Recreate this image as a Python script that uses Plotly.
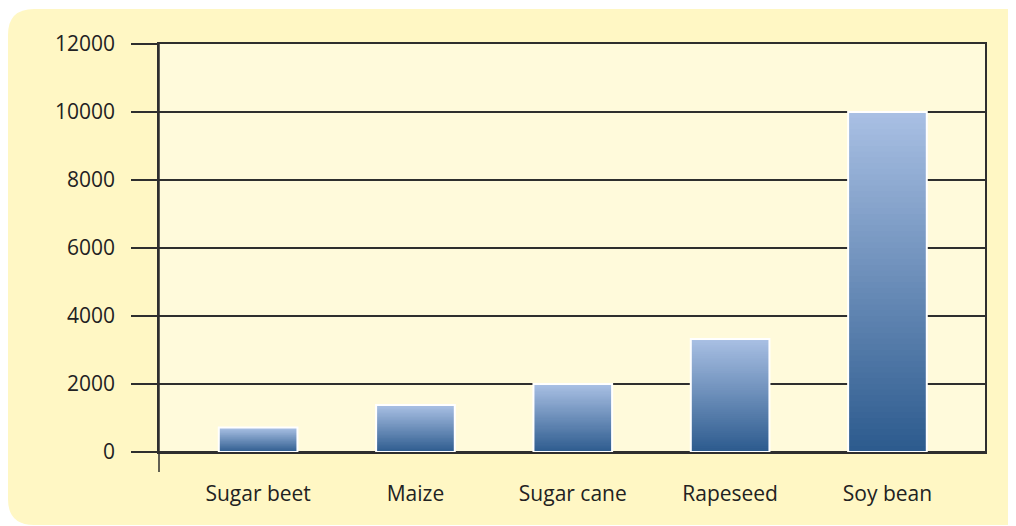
import plotly.graph_objects as go

categories = ["Sugar beet", "Maize", "Sugar cane", "Rapeseed", "Soy bean"]
values = [720, 1380, 2000, 3320, 10000]
y_ticks = [0, 2000, 4000, 6000, 8000, 10000, 12000]

# page body has an 8px margin, so the figure is drawn at offset (8, 8)
OFF = 8
W, H = 1016, 526 - OFF
L, T = 159 - OFF, 44 - OFF
R, B = W - (985 - OFF), H - (452 - OFF)
pw, ph = W - L - R, H - T - B

top_rgb = (168, 191, 227)
bot_rgb = (45, 91, 142)
N = 60

fig = go.Figure()
for i in range(N):
    f = i / (N - 1)
    c = tuple(round(bot_rgb[k] + (top_rgb[k] - bot_rgb[k]) * f) for k in range(3))
    fig.add_trace(go.Bar(
        x=categories,
        y=[v / N * 1.5 if i < N - 1 else v / N for v in values],
        base=[v * i / N for v in values],
        width=0.5,
        marker=dict(color="rgb(%d,%d,%d)" % c, line=dict(width=0)),
        hoverinfo="skip",
        showlegend=False,
    ))
fig.add_trace(go.Bar(
    x=categories, y=values, width=0.5,
    marker=dict(color="rgba(0,0,0,0)", line=dict(color="white", width=2)),
    showlegend=False,
))

def px_x(p):
    return (p - OFF - L) / pw

def px_y(p):
    return (T + ph - (p - OFF)) / ph

x0, x1 = px_x(8), px_x(1060)
y0, y1 = px_y(525), px_y(9)
rx, ry = 26 / pw, 26 / ph
path = (f"M {x0+rx},{y1} L {x1},{y1} L {x1},{y0} L {x0+rx},{y0} "
        f"Q {x0},{y0} {x0},{y0+ry} L {x0},{y1-ry} Q {x0},{y1} {x0+rx},{y1} Z")

line_c = "#2e2e2e"
fig.update_layout(
    width=W, height=H,
    margin=dict(l=L, r=R, t=T, b=B, pad=0),
    paper_bgcolor="white",
    plot_bgcolor="rgba(0,0,0,0)",
    barmode="overlay",
    font=dict(family="Open Sans", size=21, color="#222222"),
    shapes=[
        dict(type="path", path=path, xref="paper", yref="paper",
             fillcolor="#FFF7C4", line=dict(width=0), layer="below"),
        dict(type="rect", x0=0, x1=1, y0=0, y1=1, xref="paper", yref="paper",
             fillcolor="#FFFADB", line=dict(width=0), layer="below"),
        dict(type="line", x0=0, x1=0, y0=px_y(472), y1=1, xref="paper", yref="paper",
             line=dict(color=line_c, width=1.5), layer="above"),
    ],
    xaxis=dict(
        type="category", range=[-0.63, 4.62],
        showgrid=False, ticks="", showline=True, mirror=True,
        linecolor=line_c, linewidth=1.5,
        ticklabelstandoff=22, zeroline=False,
    ),
    yaxis=dict(
        range=[0, 12000], tickvals=y_ticks, tickformat="d",
        showgrid=True, gridcolor=line_c, gridwidth=1.5,
        ticks="outside", ticklen=26, tickwidth=1.5, tickcolor=line_c,
        showline=True, mirror=True, linecolor=line_c, linewidth=1.5,
        zeroline=True, zerolinecolor=line_c, zerolinewidth=1.5,
        ticklabelstandoff=12,
    ),
)

fig.write_html("out.html")
